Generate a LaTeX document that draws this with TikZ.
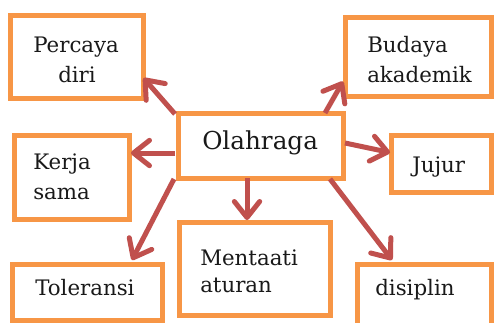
\documentclass[tikz,border=0pt]{standalone}
\usepackage{fontspec}
\setmainfont{DejaVu Serif}
\usetikzlibrary{arrows.meta,calc}
\definecolor{boxor}{HTML}{F79646}
\definecolor{arred}{HTML}{C0504D}
\begin{document}
\begin{tikzpicture}[x=0.75pt,y=-0.75pt,
  box/.style={draw=boxor,line width=3.75pt,fill=white,outer sep=0pt,inner sep=0pt},
  txt/.style={inner sep=0pt,anchor=base west,font=\fontsize{16}{19}\selectfont,text=black!90},
  bigtxt/.style={inner sep=0pt,anchor=base west,font=\fontsize{18.5}{22}\selectfont,text=black!90},
  arr/.style={draw=arred,line width=3.75pt,-{Straight Barb[length=12pt,width=19pt,line cap=round,line join=round]}}]
\clip (0,0) rectangle (495,322);
\useasboundingbox (0,0) rectangle (495,322);
\fill[white] (0,0) rectangle (495,322);
% boxes
\node[box,minimum width=99.75pt,minimum height=62.25pt] (perc) at (77,56.5) {};
\node[box,minimum width=109.5pt,minimum height=59.25pt] (bud) at (418,56.5) {};
\node[box,minimum width=86.25pt,minimum height=63pt] (kerja) at (71.5,177) {};
\node[box,minimum width=123.75pt,minimum height=48.75pt] (olah) at (260.5,145.5) {};
\node[box,minimum width=75pt,minimum height=42.75pt] (jujur) at (441,163.5) {};
\node[box,minimum width=112.5pt,minimum height=42pt] (tol) at (87,292) {};
\node[box,minimum width=113.25pt,minimum height=69.75pt] (ment) at (254.5,268.5) {};
\node[box,minimum width=100.5pt,minimum height=49.5pt] (disc) at (424,297) {};
% texts
\node[txt] (percA) at (33,52) {Percaya};
\node[txt,anchor=base] (percB) at (77,82) {diri};
\node[txt] (budA) at (367,52) {Budaya};
\node[txt] (budB) at (367,82) {akademik};
\node[txt] (kerA) at (33,169) {Kerja};
\node[txt] (kerB) at (33,199) {sama};
\node[bigtxt] (olahT) at (202,149) {Olahraga};
\node[txt] (jujT) at (412,172) {Jujur};
\node[txt] (mentA) at (200,265) {Mentaati};
\node[txt] (mentB) at (200,292) {aturan};
\node[txt] (tolT) at (35,295) {Toleransi};
\node[txt] (discT) at (375,295) {disiplin};
% arrows
\draw[arr] ($(olah.north west)+(-3,1)$) -- ($(perc.south east)+(0,-20)$);
\draw[arr] ($(olah.west)+(-3,7.5)$) -- ($(kerja.east)+(2,-24)$);
\draw[arr] ($(olah.south west)+(-4,1)$) -- ($(tol.north)+(45,-4)$);
\draw[arr] ($(olah.south)+(-13.5,0)$) -- ($(ment.north)+(-7.5,-2)$);
\draw[arr] ($(olah.south east)+(-13,1)$) -- ($(disc.north)+(-32,-4)$);
\draw[arr] ($(olah.east)+(2,-2.5)$) -- ($(jujur.west)+(-1,-11)$);
\draw[arr] ($(olah.north east)+(-18,0)$) -- ($(bud.west)+(-2,25)$);
\end{tikzpicture}
\end{document}
